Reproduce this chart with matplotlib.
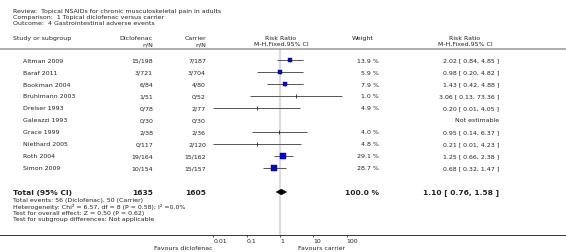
import numpy as np
import matplotlib
matplotlib.use("Agg")
from matplotlib import pyplot as plt
from matplotlib.lines import Line2D
from matplotlib.patches import Polygon

# 数据
studies = ["Altman 2009", "Baraf 2011", "Bookman 2004", "Bruhlmann 2003", "Dreiser 1993",
           "Galeazzi 1993", "Grace 1999", "Niethard 2005", "Roth 2004", "Simon 2009"]
dic_events = [15, 3, 6, 1, 0, 0, 2, 0, 19, 10]
dic_total = [198, 721, 84, 51, 78, 30, 38, 117, 164, 154]
car_events = [7, 3, 4, 0, 2, 0, 2, 2, 15, 15]
car_total = [187, 704, 80, 52, 77, 30, 36, 120, 162, 157]
weights = [13.9, 5.9, 7.9, 1.0, 4.9, np.nan, 4.0, 4.8, 29.1, 28.7]
rr = [2.02, 0.98, 1.43, 3.06, 0.20, np.nan, 0.95, 0.21, 1.25, 0.68]
lo = [0.84, 0.20, 0.42, 0.13, 0.01, np.nan, 0.14, 0.01, 0.66, 0.32]
hi = [4.85, 4.82, 4.88, 73.36, 4.05, np.nan, 6.37, 4.23, 2.38, 1.47]
total_dic, total_car = 1635, 1605
total_rr, total_lo, total_hi = 1.10, 0.76, 1.58
ticks = [0.01, 0.1, 1, 10, 100]
tick_labels = ["0.01", "0.1", "1", "10", "100"]

W, H = 566, 253
fs = 4.5
fsb = 5.4
tc = '#222222'

fig = plt.figure(figsize=(W / 100, H / 100), dpi=100)
fig.patch.set_facecolor('white')

# 文字层，像素坐标
tx = fig.add_axes([0, 0, 1, 1])
tx.set_xlim(0, W)
tx.set_ylim(H, 0)
tx.axis('off')

def t(x, y, s, ha='left', bold=False):
    tx.text(x, y, s, ha=ha, va='center', color=tc,
            fontsize=fsb if bold else fs,
            fontweight='bold' if bold else 'normal')

t(13, 11.5, "Review:  Topical NSAIDs for chronic musculoskeletal pain in adults")
t(13, 17.5, "Comparison:  1 Topical diclofenac versus carrier")
t(13, 23.5, "Outcome:  4 Gastrointestinal adverse events")

t(13, 38.5, "Study or subgroup")
t(153, 38.5, "Diclofenac", ha='right')
t(153, 44.5, "n/N", ha='right')
t(206, 38.5, "Carrier", ha='right')
t(206, 44.5, "n/N", ha='right')
t(281, 38.5, "Risk Ratio", ha='center')
t(281, 44.5, "M-H,Fixed,95% CI", ha='center')
t(363, 38.5, "Weight", ha='center')
t(465, 38.5, "Risk Ratio", ha='center')
t(465, 44.5, "M-H,Fixed,95% CI", ha='center')

fig.add_artist(Line2D([0, 1], [1 - 49.5 / H] * 2, color='#a8a8a8', lw=1.3))
fig.add_artist(Line2D([0, 1], [1 - 236 / H] * 2, color='#333333', lw=0.7))

for i, name in enumerate(studies):
    y = 61 + 12 * i
    t(23, y, name)
    t(153, y, "%d/%d" % (dic_events[i], dic_total[i]), ha='right')
    t(206, y, "%d/%d" % (car_events[i], car_total[i]), ha='right')
    if np.isnan(rr[i]):
        t(499, y, "Not estimable", ha='right')
    else:
        t(379, y, "%.1f %%" % weights[i], ha='right')
        t(499, y, "%.2f [ %.2f, %.2f ]" % (rr[i], lo[i], hi[i]), ha='right')

ty = 61 + 12 * 11
t(13, ty, "Total (95% CI)", bold=True)
t(153, ty, str(total_dic), ha='right', bold=True)
t(206, ty, str(total_car), ha='right', bold=True)
t(379, ty, "100.0 %", ha='right', bold=True)
t(499, ty, "%.2f [ %.2f, %.2f ]" % (total_rr, total_lo, total_hi), ha='right', bold=True)
t(13, 201, "Total events: 56 (Diclofenac), 50 (Carrier)")
t(13, 207.3, "Heterogeneity: Chi² = 6.57, df = 8 (P = 0.58); I² =0.0%")
t(13, 213.6, "Test for overall effect: Z = 0.50 (P = 0.62)")
t(13, 220, "Test for subgroup differences: Not applicable")

t(213, 248.5, "Favours diclofenac", ha='right')
t(298, 248.5, "Favours carrier")

# 森林图
x0, x1 = 213.3, 346.7
ax = fig.add_axes([x0 / W, 1 - 236 / H, (x1 - x0) / W, (236 - 49.5) / H])
ax.set_xscale('log')
ax.set_xlim(0.01, 100)
ax.set_ylim((236 - 61) / 12, (49.5 - 61) / 12)
ax.patch.set_alpha(0)
for s in ax.spines.values():
    s.set_visible(False)
ax.set_yticks([])
ax.set_xticks(ticks)
ax.set_xticklabels(tick_labels, ha='left')
ax.minorticks_off()
ax.tick_params(axis='x', length=1.7, width=0.6, color='#333333', pad=0.3,
               labelsize=fs, labelcolor=tc)

ax.axvline(1, color='#dcdcdc', lw=1.6, zorder=0)

for i in range(len(studies)):
    if np.isnan(rr[i]):
        continue
    ax.plot([lo[i], hi[i]], [i, i], color='#555555', lw=0.7, solid_capstyle='butt', zorder=2)
    ax.plot([rr[i]], [i], marker='|', ms=3, mew=0.6, color='#222222', zorder=4)
    if weights[i] > 5:
        ms = 0.8 + 0.7 * np.sqrt(weights[i])
        ax.plot([rr[i]], [i], marker='s', ms=ms, color='#0000ee', mec='#0000aa',
                mew=0.3, zorder=3)

d = 0.24
ax.add_patch(Polygon([(total_lo, 11), (total_rr, 11 - d), (total_hi, 11), (total_rr, 11 + d)],
                     closed=True, facecolor='black', edgecolor='black', lw=0.3, zorder=4))

fig.savefig("out.png", dpi=100)
